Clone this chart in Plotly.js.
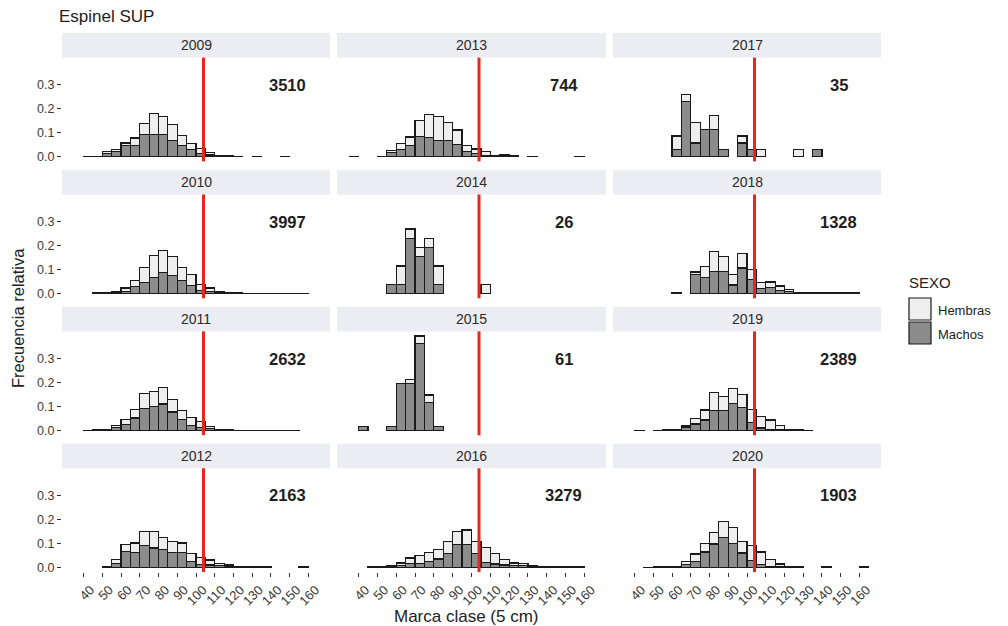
<!DOCTYPE html>
<html>
<head>
<meta charset="utf-8">
<script src="https://cdn.plot.ly/plotly-3.0.1.min.js"></script>
<style>
  html, body { margin: 0; padding: 0; background: #ffffff; }
  #chart { width: 1008px; height: 626px; }
</style>
</head>
<body>
<div id="chart"></div>
<script>
// Size classes (lower bound of each 5 cm class)
const marca = [35,40,45,50,55,60,65,70,75,80,85,90,95,100,105,110,115,120,125,130,135,140,145,150,155,160];

// Panels in facet order (column by column)
const years = [2009, 2010, 2011, 2012, 2013, 2014, 2015, 2016, 2017, 2018, 2019, 2020];
const nMuestra = [3510, 3997, 2632, 2163, 744, 26, 61, 3279, 35, 1328, 2389, 1903];

// Size at first maturity reference line (cm)
const tallaReferencia = 104;

// Relative frequency per class, by sex
const machos2009 = [null,0.001,0.001,0.012,0.020,0.048,0.048,0.093,0.093,0.093,0.068,0.048,0.030,0.014,0.007,0.002,0.001,0.001,null,0.001,null,null,0.001,null,null,null];
const hembras2009 = [null,null,0.001,0.008,0.010,0.009,0.030,0.046,0.087,0.076,0.065,0.039,0.025,0.020,0.009,0.002,0.002,null,null,null,null,null,null,null,null,null];

const machos2010 = [null,null,0.001,0.002,0.006,0.010,0.030,0.046,0.067,0.089,0.077,0.053,0.034,0.014,0.010,0.004,0.002,0.001,0.001,0.001,0.001,0.001,0.001,0.001,0.001,null];
const hembras2010 = [null,null,0.001,0.001,0.004,0.013,0.025,0.064,0.093,0.089,0.078,0.057,0.046,0.023,0.013,0.006,0.002,0.001,null,null,null,null,null,null,null,null];

const machos2011 = [null,0.001,0.001,0.002,0.014,0.025,0.052,0.091,0.100,0.110,0.077,0.045,0.022,0.014,0.008,0.002,0.001,0.001,0.001,0.001,0.001,0.001,0.001,0.001,null,null];
const hembras2011 = [null,null,0.001,0.001,0.008,0.020,0.035,0.064,0.062,0.070,0.051,0.037,0.033,0.022,0.010,0.002,0.001,null,null,null,null,null,null,null,null,null];

const machos2012 = [null,null,null,0.002,0.017,0.065,0.063,0.092,0.081,0.075,0.063,0.063,0.026,0.013,0.010,0.007,0.004,0.001,0.001,0.001,0.001,null,null,null,0.001,null];
const hembras2012 = [null,null,null,0.001,0.016,0.030,0.039,0.058,0.069,0.051,0.046,0.039,0.031,0.027,0.021,0.010,0.006,0.001,0.001,0.001,0.001,null,null,null,0.001,null];

const machos2013 = [0.001,null,null,0.001,0.016,0.031,0.045,0.085,0.079,0.068,0.068,0.052,0.020,0.012,0.005,0.002,0.004,0.002,null,0.001,null,null,null,null,0.001,null];
const hembras2013 = [null,null,null,0.001,0.011,0.025,0.037,0.065,0.096,0.100,0.073,0.059,0.025,0.020,0.015,0.002,0.004,0.001,null,null,null,null,null,null,null,null];

const machos2014 = [null,null,null,null,0.038,0.038,0.231,0.154,0.192,0.038,null,null,null,null,null,null,null,null,null,null,null,null,null,null,null,null];
const hembras2014 = [null,null,null,null,null,0.077,0.038,0.038,0.038,0.077,null,null,null,null,0.038,null,null,null,null,null,null,null,null,null,null,null];

const machos2015 = [null,0.016,null,null,0.016,0.197,0.197,0.361,0.115,0.016,null,null,null,null,null,null,null,null,null,null,null,null,null,null,null,null];
const hembras2015 = [null,null,null,null,null,null,0.016,0.033,0.033,null,null,null,null,null,null,null,null,null,null,null,null,null,null,null,null,null];

const machos2016 = [null,null,0.001,0.002,0.003,0.007,0.017,0.017,0.025,0.035,0.058,0.094,0.094,0.058,0.021,0.014,0.010,0.007,0.007,0.003,0.001,0.001,0.001,0.001,0.001,null];
const hembras2016 = [null,null,0.001,0.002,0.003,0.011,0.022,0.032,0.038,0.041,0.049,0.056,0.062,0.050,0.062,0.044,0.022,0.011,0.010,0.004,0.001,0.001,0.001,0.001,0.001,null];

const machos2017 = [null,null,null,null,null,0.029,0.229,0.057,0.114,0.114,0.029,null,0.057,0.029,null,null,null,null,null,null,0.029,null,null,null,null,null];
const hembras2017 = [null,null,null,null,null,0.057,0.029,0.086,null,0.057,null,null,0.029,null,0.029,null,null,null,0.029,null,null,null,null,null,null,null];

const machos2018 = [null,null,null,null,null,0.003,null,0.079,0.068,0.093,0.093,0.036,0.107,0.059,0.022,0.027,0.014,0.008,0.001,0.001,0.001,0.001,0.001,0.001,0.001,null];
const hembras2018 = [null,null,null,null,null,null,null,0.011,0.046,0.082,0.062,0.043,0.061,0.041,0.023,0.021,0.018,0.010,0.001,0.001,0.001,0.001,0.001,0.001,0.001,null];

const machos2019 = [null,0.001,null,0.001,0.002,0.003,0.014,0.027,0.044,0.082,0.082,0.113,0.095,0.033,0.010,0.005,0.005,0.002,0.001,0.001,null,null,null,null,null,null];
const hembras2019 = [null,null,null,null,0.001,0.002,0.005,0.024,0.041,0.075,0.061,0.061,0.056,0.056,0.048,0.039,0.016,0.003,0.001,null,null,null,null,null,null,null];

const machos2020 = [null,null,0.001,0.001,0.001,0.002,0.011,0.025,0.064,0.097,0.125,0.101,0.060,0.028,0.011,0.004,0.004,0.001,0.001,null,null,0.001,null,null,null,0.001];
const hembras2020 = [null,null,null,0.001,0.001,0.002,0.014,0.031,0.037,0.050,0.067,0.066,0.048,0.062,0.053,0.028,0.010,0.001,0.001,null,null,0.001,null,null,null,0.001];

const machosPorAnio = [machos2009, machos2010, machos2011, machos2012, machos2013, machos2014, machos2015, machos2016, machos2017, machos2018, machos2019, machos2020];
const hembrasPorAnio = [hembras2009, hembras2010, hembras2011, hembras2012, hembras2013, hembras2014, hembras2015, hembras2016, hembras2017, hembras2018, hembras2019, hembras2020];

const xTicks = [40,50,60,70,80,90,100,110,120,130,140,150,160];
const yTicks = [0, 0.1, 0.2, 0.3];
const yTickText = ['0.0', '0.1', '0.2', '0.3'];

// ---- page geometry (pixels) ----
const W = 1008, H = 626;
const colL = [62, 337, 613];
const colR = [330, 606, 881];
const plotTop = [57.6, 194.5, 331.4, 468.3];
const plotBot = [161.4, 298.3, 435.2, 572.1];
const stripH = 24.6;
// where the sample size label sits inside every panel (cm, relative freq.)
const nLabelPos = {x: 149, y: 0.30};

const FONT = 'Liberation Sans, Arial, Helvetica, sans-serif';
const COL_MACHOS = '#8c8c8c';
const COL_HEMBRAS = '#eeeeee';
const COL_OUTLINE = '#1a1a1a';

const fx = px => px / W;
const fy = py => 1 - py / H;

const traces = [];
const layout = {
  width: W, height: H,
  margin: {l: 0, r: 0, t: 0, b: 0},
  paper_bgcolor: '#ffffff',
  plot_bgcolor: '#ffffff',
  barmode: 'stack',
  bargap: 0,
  showlegend: false,
  font: {family: FONT, color: '#333333'},
  shapes: [],
  annotations: []
};

years.forEach((yr, p) => {
  const col = Math.floor(p / 4), row = p % 4;
  const s = p === 0 ? '' : String(p + 1);
  const xName = 'x' + s, yName = 'y' + s;

  // Machos first (bottom of stack), Hembras on top
  traces.push({
    type: 'bar', x: marca, y: machosPorAnio[p], name: 'Machos',
    xaxis: xName, yaxis: yName, offset: 0, width: 5,
    marker: {color: COL_MACHOS, line: {color: COL_OUTLINE, width: 1.2}},
    hoverinfo: 'x+y+name'
  });
  traces.push({
    type: 'bar', x: marca, y: hembrasPorAnio[p], name: 'Hembras',
    xaxis: xName, yaxis: yName, offset: 0, width: 5,
    marker: {color: COL_HEMBRAS, line: {color: COL_OUTLINE, width: 1.2}},
    hoverinfo: 'x+y+name'
  });

  const bottomRow = row === 3, leftCol = col === 0;
  layout['xaxis' + s] = {
    domain: [fx(colL[col]), fx(colR[col])],
    anchor: yName,
    range: [28.5, 171.5],
    tickmode: 'array', tickvals: xTicks, ticktext: xTicks.map(String),
    showticklabels: bottomRow,
    ticks: bottomRow ? 'outside' : '',
    ticklen: 4, tickwidth: 1, tickcolor: '#333333',
    tickangle: -45,
    ticklabelshift: 7,
    tickfont: {family: FONT, size: 13, color: '#3a3a3a'},
    showgrid: false, zeroline: false, showline: false, fixedrange: true
  };
  layout['yaxis' + s] = {
    domain: [fy(plotBot[row]), fy(plotTop[row])],
    anchor: xName,
    range: [-0.0197, 0.413],
    tickmode: 'array', tickvals: yTicks, ticktext: yTickText,
    showticklabels: leftCol,
    ticks: leftCol ? 'outside' : '',
    ticklen: 4, tickwidth: 1, tickcolor: '#333333',
    tickfont: {family: FONT, size: 12.5, color: '#3a3a3a'},
    showgrid: false, zeroline: false, showline: false, fixedrange: true
  };

  // facet strip
  layout.shapes.push({
    type: 'rect', xref: 'paper', yref: 'paper', layer: 'below',
    x0: fx(colL[col]), x1: fx(colR[col]),
    y0: fy(plotTop[row]), y1: fy(plotTop[row] - stripH),
    fillcolor: '#ececf3', line: {width: 0}
  });
  layout.annotations.push({
    xref: 'paper', yref: 'paper',
    x: fx((colL[col] + colR[col]) / 2), y: fy(plotTop[row] - stripH / 2),
    text: String(yr), showarrow: false,
    xanchor: 'center', yanchor: 'middle',
    font: {family: FONT, size: 14, color: '#2b2b2b'}
  });

  // reference size line
  layout.shapes.push({
    type: 'line', xref: xName, yref: yName + ' domain',
    x0: tallaReferencia, x1: tallaReferencia, y0: 0, y1: 1,
    line: {color: '#e8261c', width: 3}
  });

  // sample size label
  layout.annotations.push({
    xref: xName, yref: yName,
    x: nLabelPos.x, y: nLabelPos.y,
    text: '<b>' + nMuestra[p] + '</b>', showarrow: false,
    xanchor: 'center', yanchor: 'middle',
    font: {family: FONT, size: 16.5, color: '#1e1e1e'}
  });
});

// overall titles
layout.annotations.push({
  xref: 'paper', yref: 'paper', x: fx(57), y: fy(5),
  text: 'Espinel SUP', showarrow: false, xanchor: 'left', yanchor: 'top',
  font: {family: FONT, size: 17, color: '#222222'}
});
layout.annotations.push({
  xref: 'paper', yref: 'paper', x: fx(18), y: fy(318),
  text: 'Frecuencia relativa', showarrow: false, textangle: -90,
  xanchor: 'center', yanchor: 'middle',
  font: {family: FONT, size: 16.5, color: '#222222'}
});
layout.annotations.push({
  xref: 'paper', yref: 'paper', x: fx(466), y: fy(616),
  text: 'Marca clase (5 cm)', showarrow: false,
  xanchor: 'center', yanchor: 'middle',
  font: {family: FONT, size: 17, color: '#222222'}
});

// legend
layout.annotations.push({
  xref: 'paper', yref: 'paper', x: fx(907), y: fy(283),
  text: 'SEXO', showarrow: false, xanchor: 'left', yanchor: 'middle',
  font: {family: FONT, size: 15, color: '#222222'}
});
const legendItems = [
  {label: 'Hembras', fill: COL_HEMBRAS, top: 298},
  {label: 'Machos', fill: COL_MACHOS, top: 322}
];
legendItems.forEach(it => {
  layout.shapes.push({
    type: 'rect', xref: 'paper', yref: 'paper',
    x0: fx(909), x1: fx(931), y0: fy(it.top + 22), y1: fy(it.top),
    fillcolor: it.fill, line: {color: COL_OUTLINE, width: 1.2}
  });
  layout.annotations.push({
    xref: 'paper', yref: 'paper', x: fx(936), y: fy(it.top + 12),
    text: it.label, showarrow: false, xanchor: 'left', yanchor: 'middle',
    font: {family: FONT, size: 13, color: '#222222'}
  });
});

Plotly.newPlot('chart', traces, layout, {displayModeBar: false, staticPlot: true});
</script>
</body>
</html>
